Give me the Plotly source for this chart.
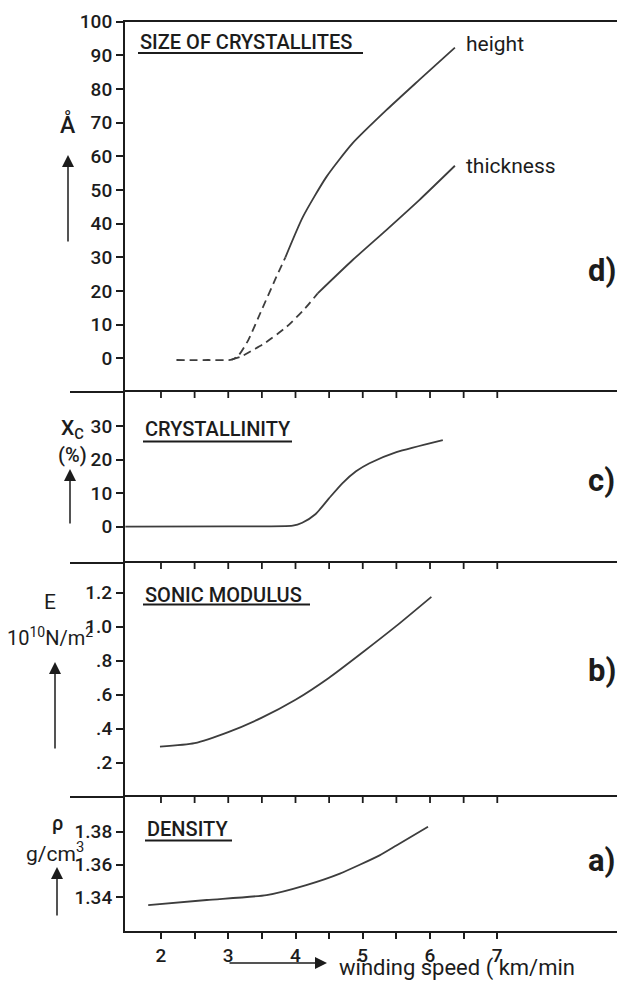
import plotly.graph_objects as go

W, H = 617, 982

# winding speed axis (km/min)
speed_ticks = [2, 2.5, 3, 3.5, 4, 4.5, 5, 5.5, 6, 6.5, 7]
speed_labels = ["2", "", "3", "", "4", "", "5", "", "6", "", "7"]

# d) size of crystallites (Å)
height_dash_x = [2.23, 2.7, 3.05, 3.15, 3.3, 3.5, 3.7, 3.85]
height_dash_y = [-0.5, -0.5, -0.4, 0.8, 5.5, 14.5, 23.5, 30.0]
height_x = [3.85, 4.11, 4.46, 4.85, 5.35, 5.84, 6.37]
height_y = [30.0, 42.0, 53.9, 63.9, 73.7, 82.7, 92.3]
thick_dash_x = [3.05, 3.2, 3.37, 3.52, 3.87, 4.14, 4.33]
thick_dash_y = [-0.4, 0.6, 2.5, 4.2, 9.4, 14.8, 19.3]
thick_x = [4.33, 4.85, 5.35, 5.84, 6.37]
thick_y = [19.3, 29.2, 38.1, 47.0, 57.2]
size_ticks = [0, 10, 20, 30, 40, 50, 60, 70, 80, 90, 100]

# c) crystallinity (%)
cryst_x = [1.47, 3.0, 3.96, 4.1, 4.3, 4.5, 4.7, 4.9, 5.1, 5.5, 6.19]
cryst_y = [0.0, 0.1, 0.3, 1.2, 3.8, 8.5, 13.0, 16.5, 18.9, 22.2, 25.8]
cryst_ticks = [0, 10, 20, 30]

# b) sonic modulus (10^10 N/m^2)
sonic_x = [1.985, 2.5, 3.0, 3.5, 4.0, 4.5, 5.0, 5.5, 6.02]
sonic_y = [0.294, 0.315, 0.38, 0.465, 0.57, 0.70, 0.85, 1.005, 1.176]
sonic_ticks = [0.2, 0.4, 0.6, 0.8, 1.0, 1.2]
sonic_labels = [".2", ".4", ".6", ".8", "1.0", "1.2"]

# a) density (g/cm^3)
dens_x = [1.81, 2.68, 3.57, 4.16, 4.66, 5.25, 5.50, 5.97]
dens_y = [1.3353, 1.3384, 1.3414, 1.3475, 1.3545, 1.3656, 1.3716, 1.3831]
dens_ticks = [1.34, 1.36, 1.38]
dens_labels = ["1.34", "1.36", "1.38"]


def px(x):
    return x / W


def py(y):
    return 1 - y / H


INK = "#1c1c1c"
CURVE = "#3d3d3d"
FONT = "Roboto"
X_RANGE = [1.465, 8.78]

x_dom = [px(125), 1.0]
dom_a = [py(931), py(797)]
dom_b = [py(797), py(563)]
dom_c = [py(563), py(392)]
dom_d = [py(392), py(21.5)]

fig = go.Figure()


def curve(x, y, xa, ya, dash="solid"):
    fig.add_trace(go.Scatter(
        x=x, y=y, xaxis=xa, yaxis=ya, mode="lines",
        line=dict(color=CURVE, width=1.8, dash=dash, shape="spline", smoothing=0.6),
        hoverinfo="skip", showlegend=False))


curve(dens_x, dens_y, "x", "y")
curve(sonic_x, sonic_y, "x2", "y2")
curve(cryst_x, cryst_y, "x3", "y3")
curve(height_dash_x, height_dash_y, "x4", "y4", dash="8px,5px")
curve(thick_dash_x, thick_dash_y, "x4", "y4", dash="8px,5px")
curve(height_x, height_y, "x4", "y4")
curve(thick_x, thick_y, "x4", "y4")

common_x = dict(domain=x_dom, range=X_RANGE, showgrid=False, zeroline=False,
                showline=True, linecolor=INK, linewidth=2, tickmode="array",
                tickvals=speed_ticks, tickcolor=INK, tickwidth=1.8, ticklen=6,
                fixedrange=True, automargin=False)
common_y = dict(showgrid=False, zeroline=False, showline=True, linecolor=INK,
                linewidth=2, ticks="outside", ticklen=7, tickwidth=1.5,
                tickcolor=INK, fixedrange=True, automargin=False,
                tickfont=dict(family=FONT, size=19, color=INK, weight=500))

fig.update_layout(
    width=W, height=H, margin=dict(l=0, r=0, t=0, b=0, autoexpand=False),
    paper_bgcolor="white", plot_bgcolor="rgba(0,0,0,0)",
    # panel a: speed scale at the bottom, frame line on top as well
    xaxis=dict(common_x, anchor="y", side="bottom", mirror=True, ticks="outside",
               ticktext=speed_labels,
               tickfont=dict(family=FONT, size=19, color=INK, weight=500)),
    # panels b-d: frame line on top only
    xaxis2=dict(common_x, anchor="y2", side="top", ticks="", showticklabels=False),
    xaxis3=dict(common_x, anchor="y3", side="top", ticks="", showticklabels=False),
    xaxis4=dict(common_x, anchor="y4", side="top", ticks="", showticklabels=False),
    yaxis=dict(common_y, domain=dom_a, anchor="x", range=[1.3195, 1.4012],
               tickvals=dens_ticks, ticktext=dens_labels),
    yaxis2=dict(common_y, domain=dom_b, anchor="x2", range=[-0.002, 1.375],
                tickvals=sonic_ticks, ticktext=sonic_labels),
    yaxis3=dict(common_y, domain=dom_c, anchor="x3", range=[-10.8, 40.1],
                tickvals=cryst_ticks),
    yaxis4=dict(common_y, domain=dom_d, anchor="x4", range=[-10.0, 100.05],
                tickvals=size_ticks),
)

shapes = []

# separators extend left of the value axis
for yy in (392, 563, 797):
    shapes.append(dict(type="line", xref="paper", yref="paper",
                       x0=px(70), x1=px(125), y0=py(yy), y1=py(yy),
                       line=dict(color=INK, width=2)))

# speed ticks hanging down from the top frame line of panels a-c
for xa, ya in (("x", "y"), ("x2", "y2"), ("x3", "y3")):
    for v in speed_ticks:
        shapes.append(dict(type="line", xref=xa, yref=f"{ya} domain",
                           x0=v, x1=v, y0=0, y1=-6, ysizemode="pixel",
                           yanchor=1, layer="above",
                           line=dict(color=INK, width=1.8)))

annotations = []


def label(text, x, y, size=18, xanchor="center", weight=500):
    annotations.append(dict(
        text=text, xref="paper", yref="paper",
        x=px(x), y=py(y), xanchor=xanchor, yanchor="middle", showarrow=False,
        font=dict(family=FONT, size=size, color=INK, weight=weight)))


def up_arrow(x, y_tail, y_tip):
    annotations.append(dict(
        text="", xref="paper", yref="paper", x=px(x), y=py(y_tip),
        ax=0, ay=y_tail - y_tip, showarrow=True, arrowhead=2,
        arrowsize=1.6, arrowwidth=1.5, arrowcolor=INK))


# panel titles with underline
titles = [("SIZE OF CRYSTALLITES", 138, 42, 363, 53),
          ("CRYSTALLINITY", 143, 429, 292, 441.5),
          ("SONIC MODULUS", 143, 595, 310, 604.5),
          ("DENSITY", 145, 829, 232, 840.5)]
for text, x0, yc, x1, yu in titles:
    label(text, x0, yc, size=20, xanchor="left")
    shapes.append(dict(type="line", xref="paper", yref="paper",
                       x0=px(x0), x1=px(x1), y0=py(yu), y1=py(yu),
                       line=dict(color=INK, width=2)))

# panel letters
for text, yc in (("d)", 270), ("c)", 480), ("b)", 670), ("a)", 860)):
    label(text, 586, yc, size=31, xanchor="left", weight=700)

# curve names
label("height", 464, 44, size=21, xanchor="left", weight=400)
label("thickness", 464, 166, size=21, xanchor="left", weight=400)

# axis quantities
label("Å", 68, 124, size=23)
up_arrow(68, 243, 155)
label("X<sub>C</sub>", 72, 429, size=21)
label("(%)", 72, 455, size=20)
up_arrow(70, 525, 469)
label("E", 50, 602, size=21, weight=400)
label("10<sup>10</sup>N/m<sup>2</sup>", 50, 637, size=20, weight=400)
up_arrow(55, 750, 662)
label("ρ", 57, 823, size=20)
label("g/cm<sup>3</sup>", 55, 852, size=21, weight=400)
up_arrow(57, 917, 867)

# x quantity
annotations.append(dict(
    text="", xref="paper", yref="paper", x=px(327), y=py(963),
    ax=-99, ay=0, showarrow=True, arrowhead=2, arrowsize=1.6,
    arrowwidth=1.5, arrowcolor=INK))
label("winding speed ( km/min", 337, 968, size=22, xanchor="left", weight=400)

fig.update_layout(shapes=shapes, annotations=annotations)

fig.write_html("out.html")
